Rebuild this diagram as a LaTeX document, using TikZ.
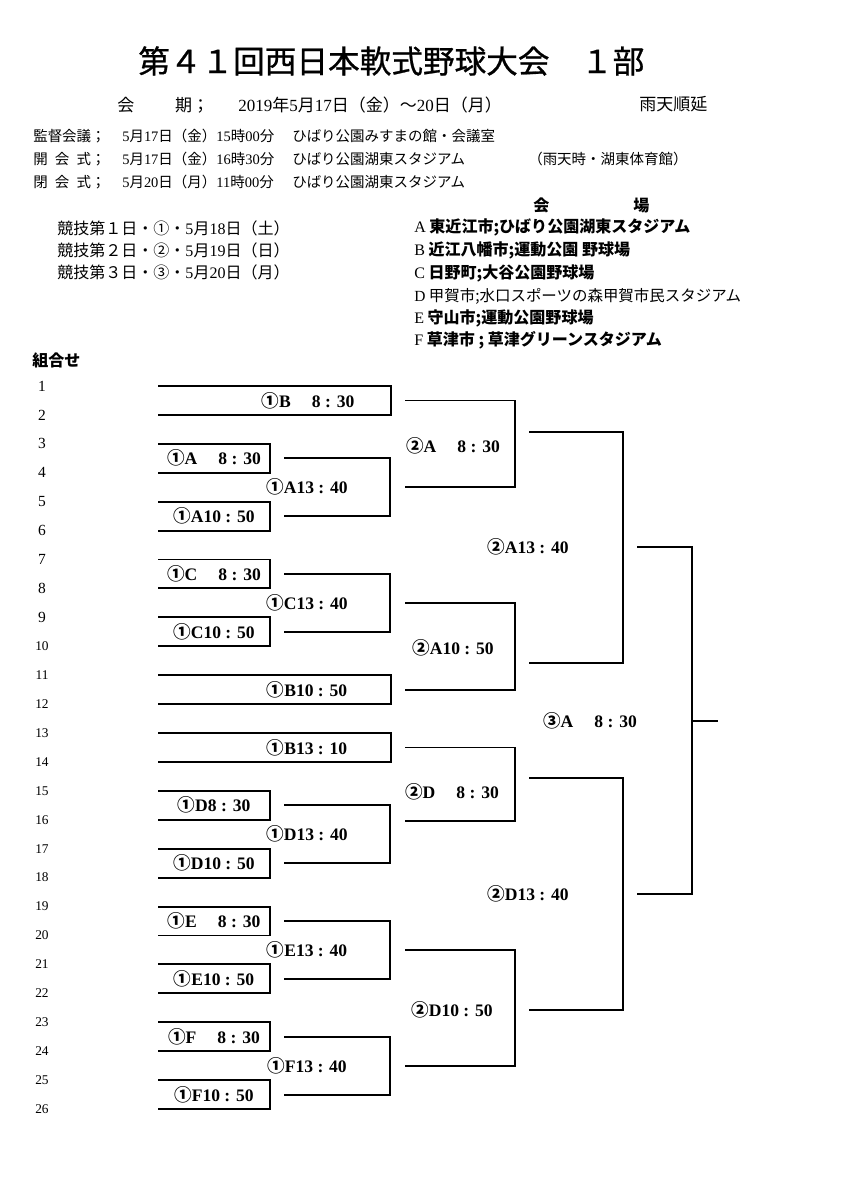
\documentclass[tikz,border=0pt]{standalone}
\usepackage{fontspec}
\setmainfont{Liberation Serif}
\newfontfamily\jp{Noto Sans CJK JP}
\newfontfamily\jptitle[FakeBold=0.8]{Noto Sans CJK JP}
\newcommand\dg[1]{{\rmfamily #1}}
\newcommand\cj[1]{{\jp #1}}

\begin{document}
\begin{tikzpicture}[x=0.25mm,y=-0.25mm,
  br/.style={line width=1.3pt},
  num/.style={inner sep=0pt,font=\fontsize{11}{13}\selectfont},
  numb/.style={inner sep=0pt,font=\fontsize{9.5}{11}\selectfont},
  res/.style={inner sep=0pt,font=\fontsize{12.5}{14}\selectfont\bfseries},
  txt/.style={anchor=west,inner sep=0pt,font=\jp\fontsize{10.3}{12}\selectfont},
  big/.style={anchor=west,inner sep=0pt,font=\jp\fontsize{11.4}{13}\selectfont}]
\useasboundingbox (0,0) rectangle (849,1200);

% heading
\node[anchor=west,inner sep=0pt,font=\jptitle\fontsize{22.5}{26}\selectfont] (title) at (138,61) {第４１回西日本軟式野球大会　１部};
\node[anchor=west,inner sep=0pt,font=\jp\fontsize{12.1}{14}\selectfont] (kaiki) at (117,105) {会\hspace{2.4em}期；};
\node[anchor=west,inner sep=0pt,font=\jp\fontsize{12.1}{14}\selectfont] (dates) at (238,105) {\dg{2019}年\dg{5}月\dg{17}日（金）～\dg{20}日（月）};
\node[anchor=west,inner sep=0pt,font=\jp\fontsize{12.1}{14}\selectfont] (rain) at (639,104) {雨天順延};

% meetings
\node[txt] (kantoku) at (33,136) {監督会議；};
\node[txt] (kantokud) at (122,136) {\dg{5}月\dg{17}日（金）\dg{15}時\dg{00}分};
\node[txt] (kantokup) at (292,136) {ひばり公園みすまの館・会議室};
\node[txt] (kaikai) at (33,159) {開\hspace{0.5em}会\hspace{0.5em}式；};
\node[txt] (kaikaid) at (122,159) {\dg{5}月\dg{17}日（金）\dg{16}時\dg{30}分};
\node[txt] (kaikaip) at (292,159) {ひばり公園湖東スタジアム};
\node[txt] (uten) at (528,159) {（雨天時・湖東体育館）};
\node[txt] (heikai) at (33,182) {閉\hspace{0.5em}会\hspace{0.5em}式；};
\node[txt] (heikaid) at (122,182) {\dg{5}月\dg{20}日（月）\dg{11}時\dg{00}分};
\node[txt] (heikaip) at (292,182) {ひばり公園湖東スタジアム};

% days and venues
\node[big,font=\jp\fontsize{11.4}{13}\selectfont\bfseries] (kaijo) at (533,205) {会\hspace{5.25em}場};
\node[big] (day1) at (57,228) {競技第１日・①・\dg{5}月\dg{18}日（土）};
\node[big] (day2) at (57,250) {競技第２日・②・\dg{5}月\dg{19}日（日）};
\node[big] (day3) at (57,272) {競技第３日・③・\dg{5}月\dg{20}日（月）};
\node[big] (va) at (414,227) {\dg{A}\ {\bfseries 東近江市;ひばり公園湖東スタジアム}};
\node[big] (vb) at (414,250) {\dg{B}\ {\bfseries 近江八幡市;運動公園 野球場}};
\node[big] (vc) at (414,273) {\dg{C}\ {\bfseries 日野町;大谷公園野球場}};
\node[big,font=\jp\fontsize{11}{13}\selectfont] (vd) at (414,296) {\dg{D}\ 甲賀市;水口スポーツの森甲賀市民スタジアム};
\node[big] (ve) at (414,318) {\dg{E}\ {\bfseries 守山市;運動公園野球場}};
\node[big] (vf) at (414,340) {\dg{F}\ {\bfseries 草津市 ; 草津グリーンスタジアム}};
\node[big,font=\jp\fontsize{11.4}{13}\selectfont\bfseries] (kumi) at (32,360) {組合せ};

% team numbers
\foreach \i/\y in {1/386.0,2/414.9,3/443.8,4/472.8,5/501.7,6/530.6,7/559.5,8/588.4,9/617.4}
  \node[num] (n\i) at (42,\y) {\i};
\foreach \i/\y in {10/646.3,11/675.2,12/704.1,13/733.0,14/762.0,15/790.9,16/819.8,17/848.7,
  18/877.6,19/906.6,20/935.5,21/964.4,22/993.3,23/1022.2,24/1051.2,25/1080.1,26/1109.0}
  \node[numb] (n\i) at (42,\y) {\i};

% first round
\draw[br] (158,386.0) -| (391,414.9) -- (158,414.9);
\draw[br] (158,443.8) -| (270,472.8) -- (158,472.8);
\draw[br] (158,501.7) -| (270,530.6) -- (158,530.6);
\draw[br] (158,559.5) -| (270,588.4) -- (158,588.4);
\draw[br] (158,617.4) -| (270,646.3) -- (158,646.3);
\draw[br] (158,675.2) -| (391,704.1) -- (158,704.1);
\draw[br] (158,733.0) -| (391,762.0) -- (158,762.0);
\draw[br] (158,790.9) -| (270,819.8) -- (158,819.8);
\draw[br] (158,848.7) -| (270,877.6) -- (158,877.6);
\draw[br] (158,906.6) -| (270,935.5) -- (158,935.5);
\draw[br] (158,964.4) -| (270,993.3) -- (158,993.3);
\draw[br] (158,1022.2) -| (270,1051.2) -- (158,1051.2);
\draw[br] (158,1080.1) -| (270,1109.0) -- (158,1109.0);
\node[res] (b830) at (308,400.5) {\cj{①}B\hspace{1.2em}8 : 30};
\node[res] (a830) at (214,458.3) {\cj{①}A\hspace{1.2em}8 : 30};
\node[res] (a1050) at (214,516.2) {\cj{①}A10 : 50};
\node[res] (c830) at (214,574.0) {\cj{①}C\hspace{1.2em}8 : 30};
\node[res] (c1050) at (214,631.8) {\cj{①}C10 : 50};
\node[res] (b1050) at (307,689.7) {\cj{①}B10 : 50};
\node[res] (b1310) at (307,747.5) {\cj{①}B13 : 10};
\node[res] (d830) at (214,805.3) {\cj{①}D8 : 30};
\node[res] (d1050) at (214,863.2) {\cj{①}D10 : 50};
\node[res] (e830) at (214,921.0) {\cj{①}E\hspace{1.2em}8 : 30};
\node[res] (e1050) at (214,978.9) {\cj{①}E10 : 50};
\node[res] (f830) at (214,1036.7) {\cj{①}F\hspace{1.2em}8 : 30};
\node[res] (f1050) at (214,1094.6) {\cj{①}F10 : 50};

% second game of day 1
\draw[br] (284,458.3) -| (390,516.2) -- (284,516.2);
\draw[br] (284,574.0) -| (390,631.8) -- (284,631.8);
\draw[br] (284,805.3) -| (390,863.2) -- (284,863.2);
\draw[br] (284,921.0) -| (390,978.9) -- (284,978.9);
\draw[br] (284,1036.7) -| (390,1094.6) -- (284,1094.6);
\node[res] (a1340) at (307,487.2) {\cj{①}A13 : 40};
\node[res] (c1340) at (307,603.0) {\cj{①}C13 : 40};
\node[res] (d1340) at (307,834.3) {\cj{①}D13 : 40};
\node[res] (e1340) at (307,950.0) {\cj{①}E13 : 40};
\node[res] (f1340) at (307,1065.6) {\cj{①}F13 : 40};

% day 2
\draw[br] (405,400.5) -| (515,487.2) -- (405,487.2);
\draw[br] (405,603.0) -| (515,689.7) -- (405,689.7);
\draw[br] (405,747.5) -| (515,821.0) -- (405,821.0);
\draw[br] (405,950.0) -| (515,1065.6) -- (405,1065.6);
\draw[br] (529,432) -| (623,663) -- (529,663);
\draw[br] (529,778) -| (623,1010) -- (529,1010);
\node[res] (sa830) at (453,446) {\cj{②}A\hspace{1.2em}8 : 30};
\node[res] (sa1050) at (453,648) {\cj{②}A10 : 50};
\node[res] (sd830) at (452,792) {\cj{②}D\hspace{1.2em}8 : 30};
\node[res] (sd1050) at (452,1010) {\cj{②}D10 : 50};
\node[res] (sa1340) at (528,547) {\cj{②}A13 : 40};
\node[res] (sd1340) at (528,894) {\cj{②}D13 : 40};

% day 3
\draw[br] (637,547) -| (692,894) -- (637,894);
\coordinate (win) at (718,721);
\draw[br] (692,721) -- (win);
\node[res] (ta830) at (590,721) {\cj{③}A\hspace{1.2em}8 : 30};
\end{tikzpicture}
\end{document}
